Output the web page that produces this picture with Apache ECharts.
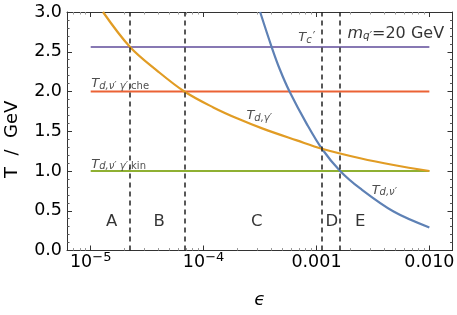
<!DOCTYPE html>
<html><head><meta charset="utf-8">
<script src="https://cdn.jsdelivr.net/npm/echarts@6/dist/echarts.min.js"></script>
<style>html,body{margin:0;padding:0;background:#fff}#c{width:457px;height:315px}</style>
</head><body><div id="c"></div>
<script>
// ---- data ----
const epsBounds = [2.23e-5, 6.76e-5, 1.117e-3, 1.62e-3];
const regionNames = ['A', 'B', 'C', 'D', 'E'];

const epsTdGamma = [1.285e-5, 2.23e-5, 3.89e-5, 6.76e-5, 1.22e-4, 2.0e-4, 3.39e-4, 6.70e-4, 1.117e-3, 2.44e-3, 4.82e-3, 1.0e-2];
const TTdGamma   = [3.0, 2.56, 2.26, 2.0, 1.80, 1.66, 1.53, 1.385, 1.28, 1.16, 1.075, 1.0];

const epsTdNu = [3.17e-4, 4.03e-4, 4.76e-4, 5.77e-4, 8.22e-4, 1.117e-3, 1.62e-3, 2.44e-3, 4.82e-3, 1.0e-2];
const TTdNu   = [3.0, 2.55, 2.27, 2.0, 1.59, 1.28, 1.0, 0.78, 0.49, 0.29];

const epsFlat = [1e-5, 1e-2];
const TcPrime = 2.56;
const TChe = 2.0;
const TKin = 1.0;

const xTickExps = [-5, -4, -3, -2];
const yTickStep = 0.5;

// ---- annotations ----
const annotations = [
  {eps: 1e-5,    T: 2.09, text: '{T|T}{sub|d,\u03bd\u2032 \u03b3\u2032}{subr|,che}'},
  {eps: 1e-5,    T: 1.08, text: '{T|T}{sub|d,\u03bd\u2032 \u03b3\u2032}{subr|,kin}'},
  {eps: 2.37e-4, T: 1.69, text: '{T|T}{sub|d,\u03b3\u2032}'},
  {eps: 6.84e-4, T: 2.67, text: '{T|T}{sub|c}{pr|\u2032}'},
  {eps: 1.86e-3, T: 2.72, text: '{M|m}{msub|q\u2032}{big|=20 GeV}'},
  {eps: 3.05e-3, T: 0.75, text: '{T|T}{sub|d,\u03bd\u2032}'}
];
const regionEps = [1.53e-5, 4.04e-5, 2.96e-4, 1.37e-3, 2.44e-3];
const regionT = 0.36;

// ---- build ----
const L = Math.log10;
const FONT = 'DejaVu Sans';
const XMIN = -5.21, XMAX = -1.795;
const minorX = [];
for (let n = -6; n <= -2; n++) for (let k = 2; k <= 9; k++) {
  const v = L(k) + n; if (v > XMIN && v < XMAX) minorX.push(v);
}
const pts = (xs, ys) => xs.map((e, i) => [L(e), ys[i]]);
const frame = {color: '#333', width: 1};

function xLabel(v) {
  const e = Math.round(v);
  return e <= -4 ? '{b|10}{s|\u2212' + (-e) + '}' : '{b|' + Math.pow(10, e).toFixed(3) + '}';
}

const richAnn = {
  T: {fontFamily: FONT, fontStyle: 'italic', fontSize: 13, lineHeight: 14, padding: [0, 0, 3, 0], verticalAlign: 'top', color: '#222'},
  sub: {fontFamily: FONT, fontStyle: 'italic', fontSize: 10, lineHeight: 10, verticalAlign: 'bottom', color: '#222'},
  subr: {fontFamily: FONT, fontSize: 10, lineHeight: 10, verticalAlign: 'bottom', color: '#222'},
  pr: {fontFamily: FONT, fontSize: 12, lineHeight: 12, verticalAlign: 'top', color: '#222', padding: [0, 0, 0, 1]},
  M: {fontFamily: FONT, fontStyle: 'italic', fontSize: 16, lineHeight: 16, padding: [0, 0, 3, 0], verticalAlign: 'top', color: '#000'},
  msub: {fontFamily: FONT, fontStyle: 'italic', fontSize: 10.5, lineHeight: 10, verticalAlign: 'bottom', color: '#000'},
  big: {fontFamily: FONT, fontSize: 16, lineHeight: 16, padding: [0, 0, 3, 0], verticalAlign: 'top', color: '#000'},
  R: {fontFamily: FONT, fontSize: 16.5, lineHeight: 18, color: '#000'}
};

const annData = annotations.map(a => ({
  value: [L(a.eps), a.T],
  label: {show: true, position: 'right', distance: 0, formatter: a.text, rich: richAnn}
})).concat(regionEps.map((e, i) => ({
  value: [L(e), regionT],
  label: {show: true, position: 'inside', formatter: '{R|' + regionNames[i] + '}', rich: richAnn}
})));

function xAxisCfg(pos, major) {
  return {
    type: 'value', min: XMIN, max: XMAX, position: pos,
    axisLine: {show: major, onZero: false, lineStyle: frame},
    axisTick: {show: true, inside: true, length: major ? 5 : 2.5,
      customValues: major ? xTickExps : minorX,
      lineStyle: {color: major ? '#333' : '#999', width: 1}},
    axisLabel: {show: false},
    splitLine: {show: false}
  };
}
const xMain = xAxisCfg('bottom', true);
xMain.axisLabel = {
  show: true, customValues: xTickExps, formatter: xLabel, margin: 1,
  rich: {
    b: {fontFamily: FONT, fontSize: 17.5, color: '#000', lineHeight: 20, padding: [4, 0, 0, 0], verticalAlign: 'bottom'},
    s: {fontFamily: FONT, fontSize: 13, color: '#000', lineHeight: 13, verticalAlign: 'top'}
  }
};
xMain.name = '\u03f5';
xMain.nameLocation = 'middle';
xMain.nameGap = 41;
xMain.nameTextStyle = {fontFamily: FONT, fontSize: 18, fontStyle: 'italic', color: '#000'};

function yAxisCfg(pos, labels) {
  return {
    type: 'value', min: 0, max: 3, interval: yTickStep, position: pos,
    axisLine: {show: true, onZero: false, lineStyle: frame},
    axisTick: {show: true, inside: true, length: 5, lineStyle: {color: '#333'}},
    minorTick: {show: true, splitNumber: 5, length: 2.5, lineStyle: {color: '#555'}},
    axisLabel: {show: labels, formatter: v => v.toFixed(1), fontFamily: FONT, fontSize: 17.5, color: '#000', margin: 5},
    splitLine: {show: false}, minorSplitLine: {show: false}
  };
}
const yMain = yAxisCfg('left', true);
yMain.name = 'T  /  GeV';
yMain.nameLocation = 'middle';
yMain.nameRotate = 90;
yMain.nameGap = 46;
yMain.nameTextStyle = {fontFamily: FONT, fontSize: 18, color: '#000', padding: [0, 16, 0, 0]};

const lineBase = {type: 'line', showSymbol: false, symbol: 'none', xAxisIndex: 0, yAxisIndex: 0, silent: true};

const option = {
  animation: false,
  backgroundColor: '#fff',
  grid: {left: 67, top: 12, width: 385.5, height: 238.5, containLabel: false, outerBoundsMode: 'none'},
  xAxis: [xMain, xAxisCfg('bottom', false), xAxisCfg('top', true), xAxisCfg('top', false)],
  yAxis: [yMain, yAxisCfg('right', false)],
  series: [
    Object.assign({}, lineBase, {name: 'Tc', data: pts(epsFlat, [TcPrime, TcPrime]), lineStyle: {color: '#8778B3', width: 2.2}}),
    Object.assign({}, lineBase, {name: 'che', data: pts(epsFlat, [TChe, TChe]), lineStyle: {color: '#EB6235', width: 2.2}}),
    Object.assign({}, lineBase, {name: 'kin', data: pts(epsFlat, [TKin, TKin]), lineStyle: {color: '#8FB032', width: 2.2},
      markLine: {silent: true, symbol: 'none', label: {show: false},
        lineStyle: {color: '#222', width: 1.5, type: [5, 4]},
        data: epsBounds.map(e => ({xAxis: L(e)}))}}),
    Object.assign({}, lineBase, {name: 'Tdnu', data: pts(epsTdNu, TTdNu), smooth: 0.35, lineStyle: {color: '#5E81B5', width: 2.2}}),
    Object.assign({}, lineBase, {name: 'Tdgamma', data: pts(epsTdGamma, TTdGamma), smooth: 0.35, lineStyle: {color: '#E19C24', width: 2.2}}),
    {type: 'scatter', silent: true, xAxisIndex: 0, yAxisIndex: 0, symbolSize: 1, itemStyle: {color: 'rgba(0,0,0,0)'}, data: annData, z: 10}
  ]
};
const chart = echarts.init(document.getElementById('c'), null, {renderer: 'canvas'});
chart.setOption(option);
</script></body></html>
